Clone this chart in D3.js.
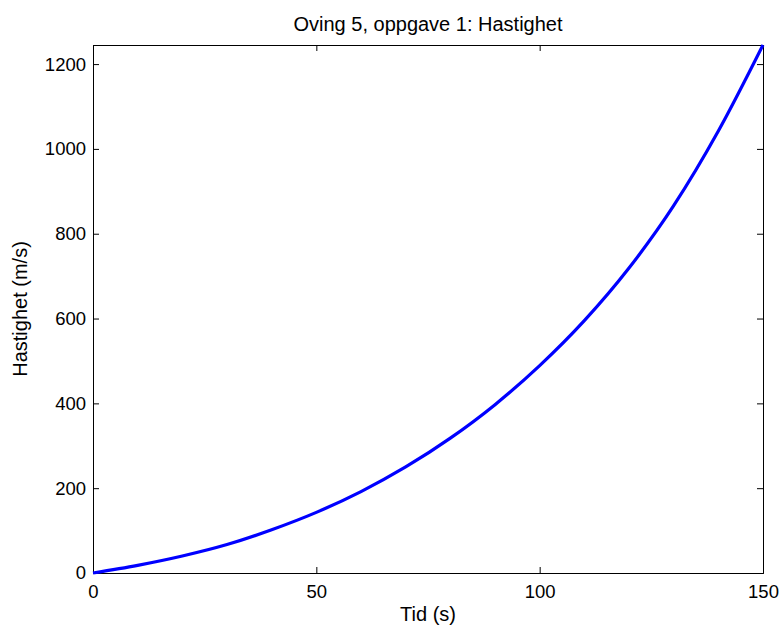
<!DOCTYPE html>
<html>
<head>
<meta charset="utf-8">
<script src="https://cdn.jsdelivr.net/npm/d3@7"></script>
<style>
  body { margin: 0; background: #fff; }
  svg text { font-family: "Liberation Sans", Arial, sans-serif; fill: #000; }
</style>
</head>
<body>
<div id="chart"></div>
<script>
// values
const tid = [0, 10, 20, 30, 40, 50, 60, 70, 80, 90, 100, 110, 120, 130, 140, 150];
const hastighet = [0, 18, 40, 67, 102, 143, 192, 250, 318, 397, 489, 595, 719, 866, 1042, 1245];
const xTicks = [0, 50, 100, 150];
const yTicks = [0, 200, 400, 600, 800, 1000, 1200];

const width = 783, height = 628;
const margin = { top: 45, right: 20, bottom: 55, left: 93 };
const plotW = 763 - margin.left;
const plotH = 573 - margin.top;

const svg = d3.select("#chart")
    .append("svg")
    .attr("width", width)
    .attr("height", height);

const g = svg.append("g")
    .attr("transform", `translate(${margin.left},${margin.top})`);

const x = d3.scaleLinear().domain([0, 150]).range([0, plotW]);
const y = d3.scaleLinear().domain([0, 1245]).range([plotH, 0]);

// axes with inward ticks on all four sides
const tick = 6;
g.append("g")
    .attr("transform", `translate(0,${plotH})`)
    .call(d3.axisBottom(x).tickValues(xTicks).tickSize(-tick).tickPadding(12).tickFormat(d3.format("d")))
    .call(a => a.selectAll("text").style("font-size", "18.5px"));
g.append("g")
    .call(d3.axisTop(x).tickValues(xTicks).tickSize(-tick).tickFormat(""));
g.append("g")
    .call(d3.axisLeft(y).tickValues(yTicks).tickSize(-tick).tickPadding(7).tickFormat(d3.format("d")))
    .call(a => a.selectAll("text").style("font-size", "18.5px"));
g.append("g")
    .attr("transform", `translate(${plotW},0)`)
    .call(d3.axisRight(y).tickValues(yTicks).tickSize(-tick).tickFormat(""));

g.selectAll(".domain").attr("stroke", "#000");
g.selectAll(".tick line").attr("stroke", "#000");

// the curve
const line = d3.line()
    .x((d, i) => x(tid[i]))
    .y(d => y(d))
    .curve(d3.curveMonotoneX);

g.append("path")
    .datum(hastighet)
    .attr("fill", "none")
    .attr("stroke", "#0000ff")
    .attr("stroke-width", 3.2)
    .attr("d", line);

// texts
svg.append("text")
    .attr("x", margin.left + plotW / 2)
    .attr("y", 31)
    .attr("text-anchor", "middle")
    .style("font-size", "20px")
    .text("Oving 5, oppgave 1: Hastighet");

svg.append("text")
    .attr("x", margin.left + plotW / 2)
    .attr("y", 621)
    .attr("text-anchor", "middle")
    .style("font-size", "20px")
    .text("Tid (s)");

svg.append("text")
    .attr("transform", `translate(27,${margin.top + plotH / 2}) rotate(-90)`)
    .attr("text-anchor", "middle")
    .style("font-size", "20px")
    .text("Hastighet (m/s)");
</script>
</body>
</html>
